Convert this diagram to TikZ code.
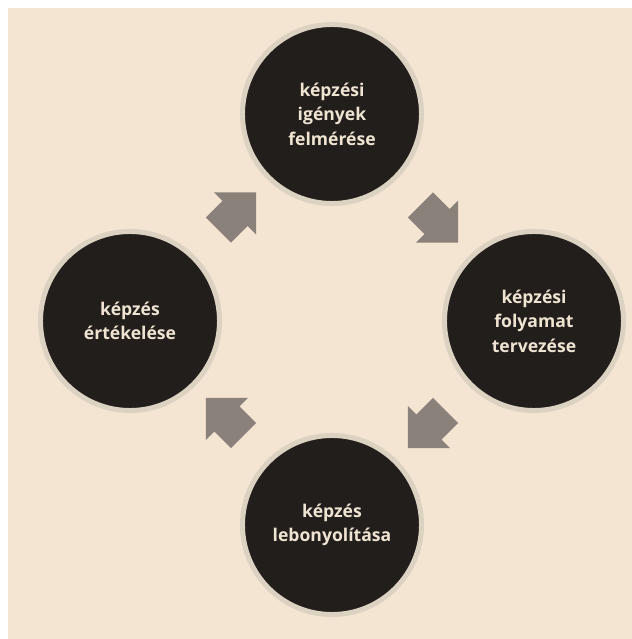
\documentclass[tikz,border=0pt]{standalone}
\usepackage{fontspec}
\setmainfont{Open Sans}
\usetikzlibrary{shapes.arrows,calc}

\definecolor{papir}{HTML}{F4E4D2}
\definecolor{korong}{HTML}{221E1C}
\definecolor{perem}{HTML}{DCD2C2}
\definecolor{nyil}{HTML}{8A827A}
\definecolor{betu}{HTML}{EFE4D2}

\tikzset{
  lepes/.style={circle, fill=korong, draw=perem, line width=0.125cm,
    minimum size=4.475cm, inner sep=0pt, align=center, text=betu,
    font=\bfseries\fontsize{12.5}{17.5}\selectfont},
  tomb/.style={single arrow, fill=nyil, draw=none, minimum height=1.3cm,
    inner sep=0.4375cm, single arrow head extend=0.3cm},
}

\begin{document}
\begin{tikzpicture}[x=0.025cm, y=0.025cm]
  \useasboundingbox (0,0) rectangle (632,639);

  % Háttér
  \fill[papir] (8,0) rectangle (632,631);

  % A négy lépés
  \node[lepes] (igeny)  at (332,525) {képzési\\igények\\felmérése};
  \node[lepes] (terv)   at (534,318) {képzési\\folyamat\\tervezése};
  \node[lepes] (lebony) at (332,114) {képzés\\lebonyolítása};
  \node[lepes] (ertek)  at (130,318) {képzés\\értékelése};

  % Nyilak a körök között
  \node[tomb, rotate=-45]  at ($(igeny)!0.5!(terv)$) {};
  \node[tomb, rotate=-135] at ($(terv)!0.5!(lebony)$) {};
  \node[tomb, rotate=135]  at ($(lebony)!0.5!(ertek)$) {};
  \node[tomb, rotate=45]   at ($(ertek)!0.5!(igeny)$) {};
\end{tikzpicture}
\end{document}
